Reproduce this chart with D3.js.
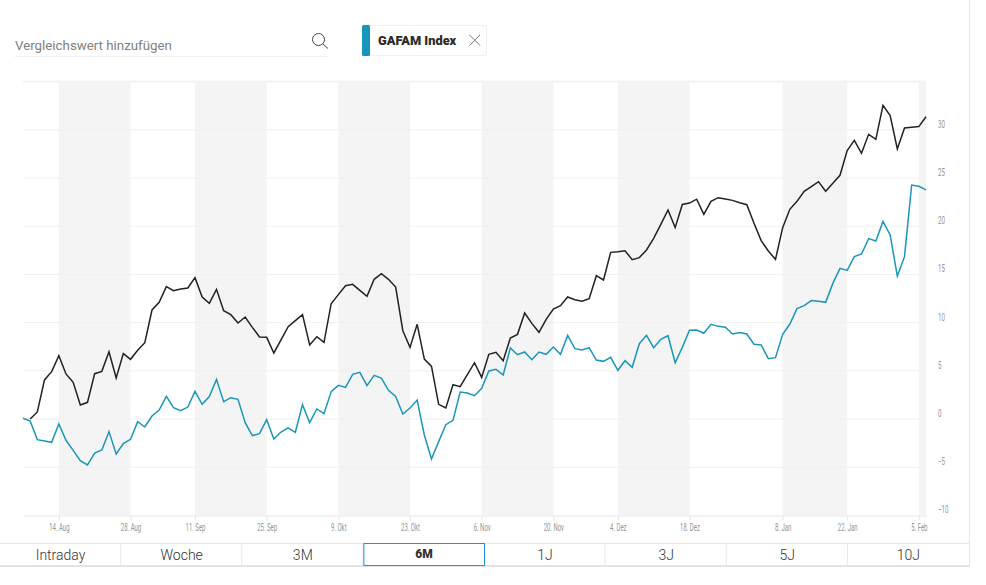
<!DOCTYPE html>
<html lang="de">
  <head>
    <meta charset="UTF-8" />
    <title>GAFAM Index</title>
    <script src="https://cdn.jsdelivr.net/npm/d3@7/dist/d3.min.js"></script>
    <style>
      body {
        padding: 0;
        margin: 0;
        background: #fff;
        overflow: hidden;
      }
      svg {
        display: block;
      }
      text {
        font-family: Roboto, sans-serif;
      }
      .tick text {
        font-size: 10px;
        fill: #959595;
      }
    </style>
  </head>
  <body>
    <svg id="chart" width="986" height="585"></svg>

    <script>
      // x position = trading day number, dates are only labels
      const tickDays = [5, 15, 24, 34, 44, 54, 64, 74, 83, 93, 106, 115, 125];
      const tickLabels = ["14. Aug", "28. Aug", "11. Sep", "25. Sep", "9. Okt", "23. Okt", "6. Nov", "20. Nov", "4. Dez", "18. Dez", "8. Jan", "22. Jan", "5. Feb"];
      const lastDay = 126;
      const yTicks = [-10, -5, 0, 5, 10, 15, 20, 25, 30];
      const ranges = ["Intraday", "Woche", "3M", "6M", "1J", "3J", "5J", "10J"];
      const activeRange = "6M";

      const blackValues = [
        null, 0, 0.73, 4.05, 4.91, 6.57, 4.67, 3.8, 1.45, 1.73, 4.7, 4.94, 6.98, 4.25, 6.78, 6.19,
        7.12, 7.92, 11.31, 12.1, 13.73, 13.31, 13.49, 13.59, 14.66, 12.66, 12.0, 13.45, 11.24, 10.82, 9.96, 10.58,
        9.51, 8.51, 8.47, 6.85, 8.2, 9.58, 10.2, 10.82, 7.68, 8.54, 7.95, 11.96, 12.9, 13.83, 13.97, 13.35,
        12.72, 14.49, 15.08, 14.49, 13.69, 9.16, 7.43, 9.82, 6.22, 5.46, 1.52, 1.14, 3.56, 3.35, 4.6, 5.84,
        4.32, 6.71, 6.92, 6.05, 8.4, 8.78, 11.0, 9.92, 8.99, 10.34, 11.41, 11.76, 12.66, 12.38, 12.21, 12.48,
        14.87, 14.42, 17.29, 17.36, 17.46, 16.53, 16.74, 17.53, 18.74, 20.19, 21.68, 19.85, 22.25, 22.4, 22.8, 21.23,
        22.58, 22.96, 22.82, 22.68, 22.44, 22.23, 20.3, 18.5, 17.43, 16.56, 19.85, 21.75, 22.58, 23.62, 24.1, 24.62,
        23.62, 24.45, 25.28, 27.84, 28.91, 27.56, 29.53, 29.01, 32.54, 31.47, 28.01, 30.19, 30.26, 30.33, 31.36
      ];
      const tealValues = [
        0.07, -0.21, -2.14, -2.28, -2.42, -0.52, -2.21, -3.25, -4.32, -4.77, -3.53, -3.22, -1.31, -3.63, -2.56, -2.11,
        -0.28, -0.83, 0.31, 0.93, 2.35, 1.18, 0.86, 1.24, 2.87, 1.52, 2.32, 4.11, 1.8, 2.21, 2.04, -0.38,
        -1.73, -1.52, -0.07, -2.07, -1.35, -0.93, -1.38, 1.49, -0.38, 1.04, 0.55, 2.84, 3.49, 3.28, 4.63, 4.84,
        3.46, 4.53, 4.25, 2.97, 2.35, 0.52, 1.14, 1.97, -1.66, -4.15, -2.35, -0.59, -0.14, 2.8, 2.7, 2.42,
        3.18, 4.98, 5.15, 4.56, 7.37, 6.67, 6.95, 6.15, 6.95, 6.71, 7.47, 6.71, 8.68, 7.3, 7.16, 7.4,
        6.12, 5.98, 6.4, 5.05, 6.05, 5.36, 7.81, 8.68, 7.4, 8.26, 8.64, 5.84, 7.43, 9.2, 9.23, 8.89,
        9.82, 9.61, 9.51, 8.82, 8.96, 8.82, 7.75, 7.68, 6.26, 6.36, 8.78, 9.85, 11.45, 11.76, 12.28, 12.21,
        12.1, 14.07, 15.63, 15.42, 16.84, 17.12, 18.71, 18.46, 20.5, 19.09, 14.83, 16.84, 24.27, 24.14, 23.76
      ];

      const svg = d3.select("#chart");
      const x = d3.scaleLinear().domain([0, lastDay]).range([23, 926]);
      const y = d3.scaleLinear().domain([-10, 35]).range([515.4, 81.6]);

      // every other two week block is shaded
      const bands = [];
      for (let i = 0; i < tickDays.length; i += 2) {
        bands.push([tickDays[i], i + 1 < tickDays.length ? tickDays[i + 1] : lastDay]);
      }
      svg.append("g")
        .selectAll("rect")
        .data(bands)
        .join("rect")
        .attr("x", (d) => x(d[0]))
        .attr("y", 81)
        .attr("width", (d) => x(d[1]) - x(d[0]))
        .attr("height", 434)
        .attr("fill", "#f4f4f4");

      // gridlines
      svg.append("g")
        .selectAll("line")
        .data(yTicks.filter((d) => d > -10).concat([35]))
        .join("line")
        .attr("x1", 23)
        .attr("x2", 926)
        .attr("y1", (d) => y(d))
        .attr("y2", (d) => y(d))
        .attr("stroke", (d) => (d == 35 ? "#f3f3f3" : "#f0f0f0"))
        .attr("stroke-width", (d) => (d == 35 ? 2 : 1));

      const xAxis = svg.append("g")
        .attr("transform", "translate(0,515.5)")
        .call(
          d3.axisBottom(x)
            .tickValues(tickDays)
            .tickFormat((d, i) => tickLabels[i])
            .tickSize(5)
            .tickSizeOuter(0)
        );
      xAxis.select(".domain").attr("stroke", "#e6e6e6");
      xAxis.selectAll(".tick line").attr("stroke", "#e6e6e6");
      // the original tick font is very condensed, so squeeze the text
      xAxis.selectAll(".tick text").attr("y", 8).attr("transform", "scale(0.6,1)");

      const yAxis = svg.append("g")
        .attr("transform", "translate(938,0)")
        .call(d3.axisRight(y).tickValues(yTicks).tickSize(0).tickPadding(0));
      yAxis.select(".domain").remove();
      yAxis.selectAll(".tick text").attr("dy", "-0.25em").attr("transform", "scale(0.62,1)");

      const line = d3.line()
        .defined((d) => d != null)
        .x((d, i) => x(i))
        .y((d) => y(d));

      svg.append("path")
        .attr("d", line(blackValues))
        .attr("fill", "none")
        .attr("stroke", "#222222")
        .attr("stroke-width", 1.5);
      svg.append("path")
        .attr("d", line(tealValues))
        .attr("fill", "none")
        .attr("stroke", "#1a96bb")
        .attr("stroke-width", 1.5);

      // search field
      svg.append("text")
        .attr("x", 15)
        .attr("y", 50)
        .attr("font-size", 13.3)
        .attr("fill", "#808080")
        .text("Vergleichswert hinzufügen");
      svg.append("line")
        .attr("x1", 15)
        .attr("x2", 328)
        .attr("y1", 56.5)
        .attr("y2", 56.5)
        .attr("stroke", "#eeeeee");
      svg.append("circle")
        .attr("cx", 318.5)
        .attr("cy", 39.5)
        .attr("r", 6)
        .attr("fill", "none")
        .attr("stroke", "#444444");
      svg.append("line")
        .attr("x1", 323)
        .attr("y1", 44)
        .attr("x2", 328)
        .attr("y2", 48.5)
        .attr("stroke", "#444444");

      // legend chip
      svg.append("rect")
        .attr("x", 362.5)
        .attr("y", 25.5)
        .attr("width", 124)
        .attr("height", 30)
        .attr("rx", 2)
        .attr("fill", "#fff")
        .attr("stroke", "#f0f0f0");
      svg.append("rect")
        .attr("x", 362)
        .attr("y", 25)
        .attr("width", 8)
        .attr("height", 31)
        .attr("rx", 1.5)
        .attr("fill", "#1696bd");
      svg.append("text")
        .attr("x", 378)
        .attr("y", 45)
        .attr("font-size", 12.8)
        .attr("font-weight", 900)
        .attr("fill", "#2b2b2b")
        .text("GAFAM Index");
      svg.append("path")
        .attr("d", "M469.5,35L480,45.5M480,35L469.5,45.5")
        .attr("stroke", "#777777")
        .attr("fill", "none");

      // range buttons
      const rangeX = d3.scaleBand().domain(ranges).range([0, 969]);
      const buttons = svg.append("g");
      buttons.append("line")
        .attr("x1", 0)
        .attr("x2", 969)
        .attr("y1", 543.5)
        .attr("y2", 543.5)
        .attr("stroke", "#e6e6e6");
      buttons.append("rect")
        .attr("x", 0)
        .attr("y", 565)
        .attr("width", 970)
        .attr("height", 2)
        .attr("fill", "#e4e4e4");
      buttons.selectAll(".divider")
        .data(ranges.slice(1))
        .join("line")
        .attr("class", "divider")
        .attr("x1", (d) => rangeX(d) - 0.5)
        .attr("x2", (d) => rangeX(d) - 0.5)
        .attr("y1", 543)
        .attr("y2", 565)
        .attr("stroke", "#e8e8e8");
      buttons.append("rect")
        .attr("x", rangeX(activeRange) + 0.5)
        .attr("y", 543.5)
        .attr("width", rangeX.bandwidth() - 0.5)
        .attr("height", 22)
        .attr("fill", "#fff")
        .attr("stroke", "#1b95e0");
      buttons.selectAll("text")
        .data(ranges)
        .join("text")
        .attr("x", (d) => rangeX(d) + rangeX.bandwidth() / 2)
        .attr("y", (d) => (d == activeRange ? 558 : 560))
        .attr("text-anchor", "middle")
        .attr("font-size", (d) => (d == activeRange ? 12 : 14))
        .attr("font-weight", (d) => (d == activeRange ? 900 : 300))
        .attr("fill", "#333333")
        .text((d) => d);

      // right edge of the widget
      svg.append("line")
        .attr("x1", 969.5)
        .attr("x2", 969.5)
        .attr("y1", 0)
        .attr("y2", 567)
        .attr("stroke", "#e6e6e6");
    </script>
  </body>
</html>
